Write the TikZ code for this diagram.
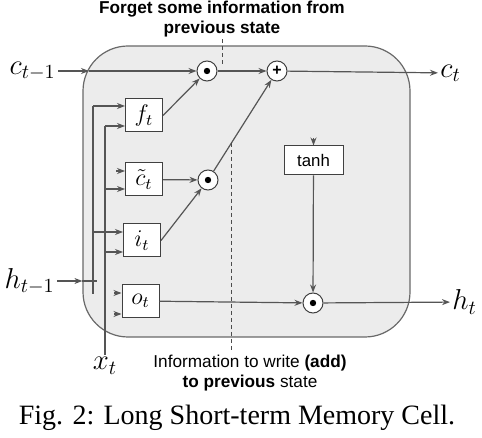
\documentclass[tikz,border=0pt]{standalone}
\usepackage{amsmath}
\usepackage{fontspec}
\setmainfont{Liberation Serif}
\newfontfamily\lstmsans{Liberation Sans}
\usetikzlibrary{arrows.meta}
\definecolor{lstmfill}{RGB}{236,236,236}
\definecolor{lstmedge}{RGB}{105,105,105}
\definecolor{lstmline}{RGB}{85,85,85}
\tikzstyle{cellbox} = [rectangle, rounded corners=22.5pt, draw=lstmedge, fill=lstmfill, line width=0.6pt]
\tikzstyle{gate} = [rectangle, text centered, draw=black!75, fill=white, inner sep=0pt, minimum width=18.5pt, minimum height=16.5pt, line width=0.5pt, font=\large]
\tikzstyle{mult} = [circle, draw=black!75, fill=white, minimum size=10pt, inner sep=0pt, line width=0.5pt, path picture={\fill[black] (path picture bounding box.center) circle (1.6pt);}]
\tikzstyle{addop} = [circle, draw=black!75, fill=white, minimum size=10pt, inner sep=0pt, line width=0.5pt, font=\lstmsans\bfseries\fontsize{8}{8}\selectfont]
\tikzstyle{ext} = [font=\Large, inner sep=1pt]
\tikzstyle{note} = [align=center, inner sep=1pt, font=\lstmsans\fontsize{8.6}{9.8}\selectfont]
\tikzstyle{arrow} = [->, >={Stealth[length=4pt,width=3pt]}, draw=lstmline, line width=0.6pt]
\tikzstyle{wire} = [draw=lstmline, line width=0.6pt]
\tikzstyle{guide} = [dash pattern=on 2pt off 1.5pt, draw=black!70, line width=0.5pt]

\begin{document}
\begin{tikzpicture}[x=0.5pt, y=-0.5pt]
\useasboundingbox (0,0) rectangle (482,438);

\node (cell) [cellbox, minimum width=163.5pt, minimum height=145.5pt] at (246.5,191.5) {};

\node (fmul) [mult] at (207,71) {};
\node (cadd) [addop] at (277,71) {+};
\node (imul) [mult] at (208,180) {};
\node (omul) [mult] at (313,303) {};

\node (ft) [gate] at (144,115.5) {$f_t$};
\node (ct) [gate, below of=ft, node distance=32pt] {$\tilde{c}_t$};
\node (it) [gate, below of=ct, node distance=30.5pt, xshift=-1pt] {$i_t$};
\node (ot) [gate, below of=it, node distance=30.25pt, xshift=-0.75pt] {$o_t$};

\node (tanhbox) [gate, font=\lstmsans\fontsize{8.4}{10}\selectfont, minimum width=29.5pt, minimum height=14.5pt] at (313.5,160.5) {tanh};

\node (cprev) [ext, anchor=east] at (58,71) {$c_{t-1}$};
\node (cnext) [ext, anchor=west] at (438,73) {$c_t$};
\node (hprev) [ext, anchor=east] at (57,281) {$h_{t-1}$};
\node (hnext) [ext, anchor=west] at (450,302) {$h_t$};
\node (xin) [ext, anchor=north] at (105,355) {$x_t$};

\node (forgetlbl) [note, font=\lstmsans\bfseries\fontsize{8.6}{9.8}\selectfont] at (222,19) {Forget some information from\\previous state};
\node (writelbl) [note] at (250,373) {Information to write \textbf{(add)}\\\textbf{to previous} state};

\node (caption) [font=\fontsize{14}{16}\selectfont] at (237,418) {Fig. 2: Long Short-term Memory Cell.};

\coordinate (cedge) at (89,71);
\coordinate (htop) at (93,106);
\coordinate (hbot) at (93,294);
\coordinate (hjoin) at (97,281);
\coordinate (xtop) at (105,126);
\coordinate (cx) at (105,189);
\coordinate (ih) at (93,232);
\coordinate (ix) at (105,252);
\coordinate (cth) at (116,171);
\coordinate (oth) at (114,293);
\coordinate (otx) at (114,314);
\coordinate (tin) at (313.5,138);
\coordinate (fdash) at (222,65);
\coordinate (wtop) at (231,143);

\draw [wire] (htop) -- (hbot);
\draw [wire] (xtop) -- (xin);
\draw [arrow] (hprev) -- (hprev -| cell.west);
\draw [wire] (hprev -| cell.west) -- (hjoin);
\draw [arrow] (cprev) -- (cedge);
\draw [arrow] (cedge) -- (fmul);

\draw [arrow] (htop) -- (htop -| ft.west);
\draw [arrow] (xtop) -- (xtop -| ft.west);
\draw [arrow] (cth) -- (cth -| ct.west);
\draw [arrow] (cx) -- (cx -| ct.west);
\draw [arrow] (ih) -- (ih -| it.west);
\draw [arrow] (ix) -- (ix -| it.west);
\draw [arrow] (oth) -- (oth -| ot.west);
\draw [arrow] (otx) -- (otx -| ot.west);

\draw [arrow] (ft.east) -- (fmul);
\draw [arrow] (ct) -- (imul);
\draw [arrow] (it.east) -- (imul);
\draw [arrow] (fmul) -- (cadd);
\draw [arrow] (imul) -- (cadd);
\draw [arrow] (cadd) -- (cnext);
\draw [arrow] (tin) -- (tanhbox);
\draw [arrow] (tanhbox) -- (omul);
\draw [arrow] (ot) -- (omul);
\draw [arrow] (omul) -- (hnext);

\draw [guide] (forgetlbl) -- (fdash);
\draw [guide] (wtop) -- (wtop |- writelbl.north);

\end{tikzpicture}
\end{document}
